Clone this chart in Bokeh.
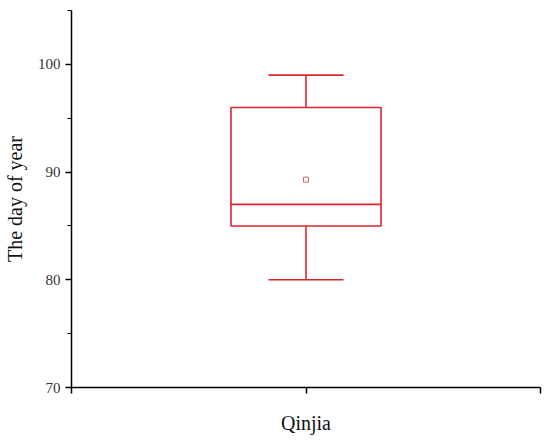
from bokeh.plotting import figure
from bokeh.models import Range1d, FixedTicker
from bokeh.embed import file_html
from bokeh.resources import INLINE

# data
categories = ["Qinjia"]
lower_whisker = [80]
q1 = [85]
median = [87]
q3 = [96]
upper_whisker = [99]
mean = [89.3]
positions = [1]

RED = "#d9262b"
box_w = 0.64
cap_w = 0.32
FONT = "Liberation Serif"

p = figure(width=542, height=436, output_backend="svg", toolbar_location=None,
           x_range=Range1d(0, 2), y_range=Range1d(70, 105),
           min_border_left=69, min_border_right=2, min_border_top=10, min_border_bottom=47)
p.outline_line_color = None
p.xgrid.visible = False
p.ygrid.visible = False
p.background_fill_color = "white"

x = positions
# whiskers
p.segment(x0=x, y0=q3, x1=x, y1=upper_whisker, line_color=RED, line_width=1.6)
p.segment(x0=x, y0=q1, x1=x, y1=lower_whisker, line_color=RED, line_width=1.6)
# caps
p.segment(x0=[v - cap_w / 2 for v in x], y0=upper_whisker, x1=[v + cap_w / 2 for v in x], y1=upper_whisker,
          line_color=RED, line_width=1.6)
p.segment(x0=[v - cap_w / 2 for v in x], y0=lower_whisker, x1=[v + cap_w / 2 for v in x], y1=lower_whisker,
          line_color=RED, line_width=1.6)
# box
p.quad(left=[v - box_w / 2 for v in x], right=[v + box_w / 2 for v in x], bottom=q1, top=q3,
       fill_color=None, line_color=RED, line_width=1.6)
# median
p.segment(x0=[v - box_w / 2 for v in x], y0=median, x1=[v + box_w / 2 for v in x], y1=median,
          line_color=RED, line_width=1.6)
# mean
p.scatter(x=x, y=mean, marker="square", size=5, fill_color=None, line_color="#d9666a", line_width=1)

# x axis
xa = p.xaxis[0]
xa.ticker = FixedTicker(ticks=[0, 1, 2], minor_ticks=[])
xa.major_label_overrides = {0: "", 1: "", 2: ""}
xa.axis_label = categories[0]
xa.axis_label_text_font = FONT
xa.axis_label_text_font_size = "20px"
xa.axis_label_text_font_style = "normal"
xa.axis_label_text_color = "#111111"
xa.axis_label_standoff = 18
xa.major_tick_in = 0
xa.major_tick_out = 6
xa.axis_line_width = 1.5
xa.major_tick_line_width = 1.5

# y axis
ya = p.yaxis[0]
ya.ticker = FixedTicker(ticks=[70, 80, 90, 100], minor_ticks=[75, 85, 95, 105])
ya.major_label_text_font = FONT
ya.major_label_text_font_size = "15px"
ya.major_label_text_color = "#333333"
ya.axis_label = "The day of year"
ya.axis_label_text_font = FONT
ya.axis_label_text_font_size = "20px"
ya.axis_label_text_font_style = "normal"
ya.axis_label_text_color = "#111111"
ya.axis_label_standoff = 9
ya.major_tick_in = 0
ya.major_tick_out = 6
ya.minor_tick_in = 0
ya.minor_tick_out = 4
ya.axis_line_width = 1.5
ya.major_tick_line_width = 1.5
ya.minor_tick_line_width = 1.2

open("out.html", "w").write(file_html(p, INLINE))
